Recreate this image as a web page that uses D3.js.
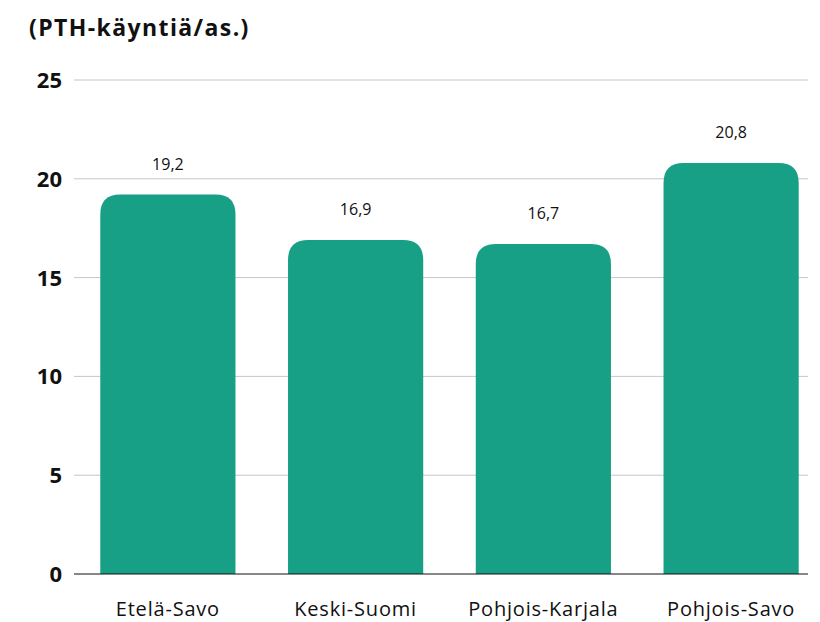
<!DOCTYPE html>
<html>
<head>
<meta charset="utf-8">
<script src="https://cdn.jsdelivr.net/npm/d3@7"></script>
<style>
  body { margin: 0; background: #fff; }
  svg text { font-family: "Open Sans", "Noto Sans", sans-serif; fill: #111; }
</style>
</head>
<body>
<script>
var width = 820, height = 622;

var categories = ["Etelä-Savo", "Keski-Suomi", "Pohjois-Karjala", "Pohjois-Savo"];
var values = [19.2, 16.9, 16.7, 20.8];
var valueLabels = ["19,2", "16,9", "16,7", "20,8"];
var yTicks = [0, 5, 10, 15, 20, 25];
var title = "(PTH-käyntiä/as.)";

var svg = d3.select("body").append("svg")
    .attr("width", width)
    .attr("height", height);

var x = d3.scaleBand()
    .domain(categories)
    .range([74, 825])
    .paddingInner(0.28)
    .paddingOuter(0.14);

var y = d3.scaleLinear()
    .domain([0, 25])
    .range([574, 80]);

// title
svg.append("text")
   .attr("x", 29)
   .attr("y", 36)
   .attr("font-size", 23)
   .attr("font-weight", "bold")
   .attr("letter-spacing", 1.4)
   .text(title);

// gridlines
svg.append("g").selectAll("line")
   .data(yTicks.filter(function(d){ return d > 0; }))
   .enter()
   .append("line")
   .attr("x1", 74)
   .attr("x2", 808)
   .attr("y1", function(d){ return y(d); })
   .attr("y2", function(d){ return y(d); })
   .attr("stroke", "#c3c6cc")
   .attr("stroke-width", 1);

// y tick labels
svg.append("g").selectAll("text")
   .data(yTicks)
   .enter()
   .append("text")
   .attr("x", 62)
   .attr("y", function(d){ return y(d) + 8; })
   .attr("text-anchor", "end")
   .attr("font-size", 22)
   .attr("font-weight", "bold")
   .text(function(d){ return d; });

// bars with rounded tops
var r = 20;
svg.append("g").selectAll("path")
   .data(values)
   .enter()
   .append("path")
   .attr("fill", "#17a085")
   .attr("d", function(d, i){
       var x0 = x(categories[i]), w = x.bandwidth(), top = y(d), base = y(0);
       return "M" + x0 + "," + base +
              "V" + (top + r) +
              "Q" + x0 + "," + top + " " + (x0 + r) + "," + top +
              "H" + (x0 + w - r) +
              "Q" + (x0 + w) + "," + top + " " + (x0 + w) + "," + (top + r) +
              "V" + base + "Z";
   });

// baseline
svg.append("line")
   .attr("x1", 74).attr("x2", 808)
   .attr("y1", y(0)).attr("y2", y(0))
   .attr("stroke", "#111")
   .attr("stroke-width", 1.2);

// value labels
svg.append("g").selectAll("text")
   .data(values)
   .enter()
   .append("text")
   .attr("x", function(d, i){ return x(categories[i]) + x.bandwidth() / 2; })
   .attr("y", function(d){ return y(d) - 25; })
   .attr("text-anchor", "middle")
   .attr("font-size", 16)
   .text(function(d, i){ return valueLabels[i]; });

// category labels
svg.append("g").selectAll("text")
   .data(categories)
   .enter()
   .append("text")
   .attr("x", function(d){ return x(d) + x.bandwidth() / 2; })
   .attr("y", 616)
   .attr("text-anchor", "middle")
   .attr("font-size", 20)
   .attr("letter-spacing", 0.8)
   .text(function(d){ return d; });
</script>
</body>
</html>
